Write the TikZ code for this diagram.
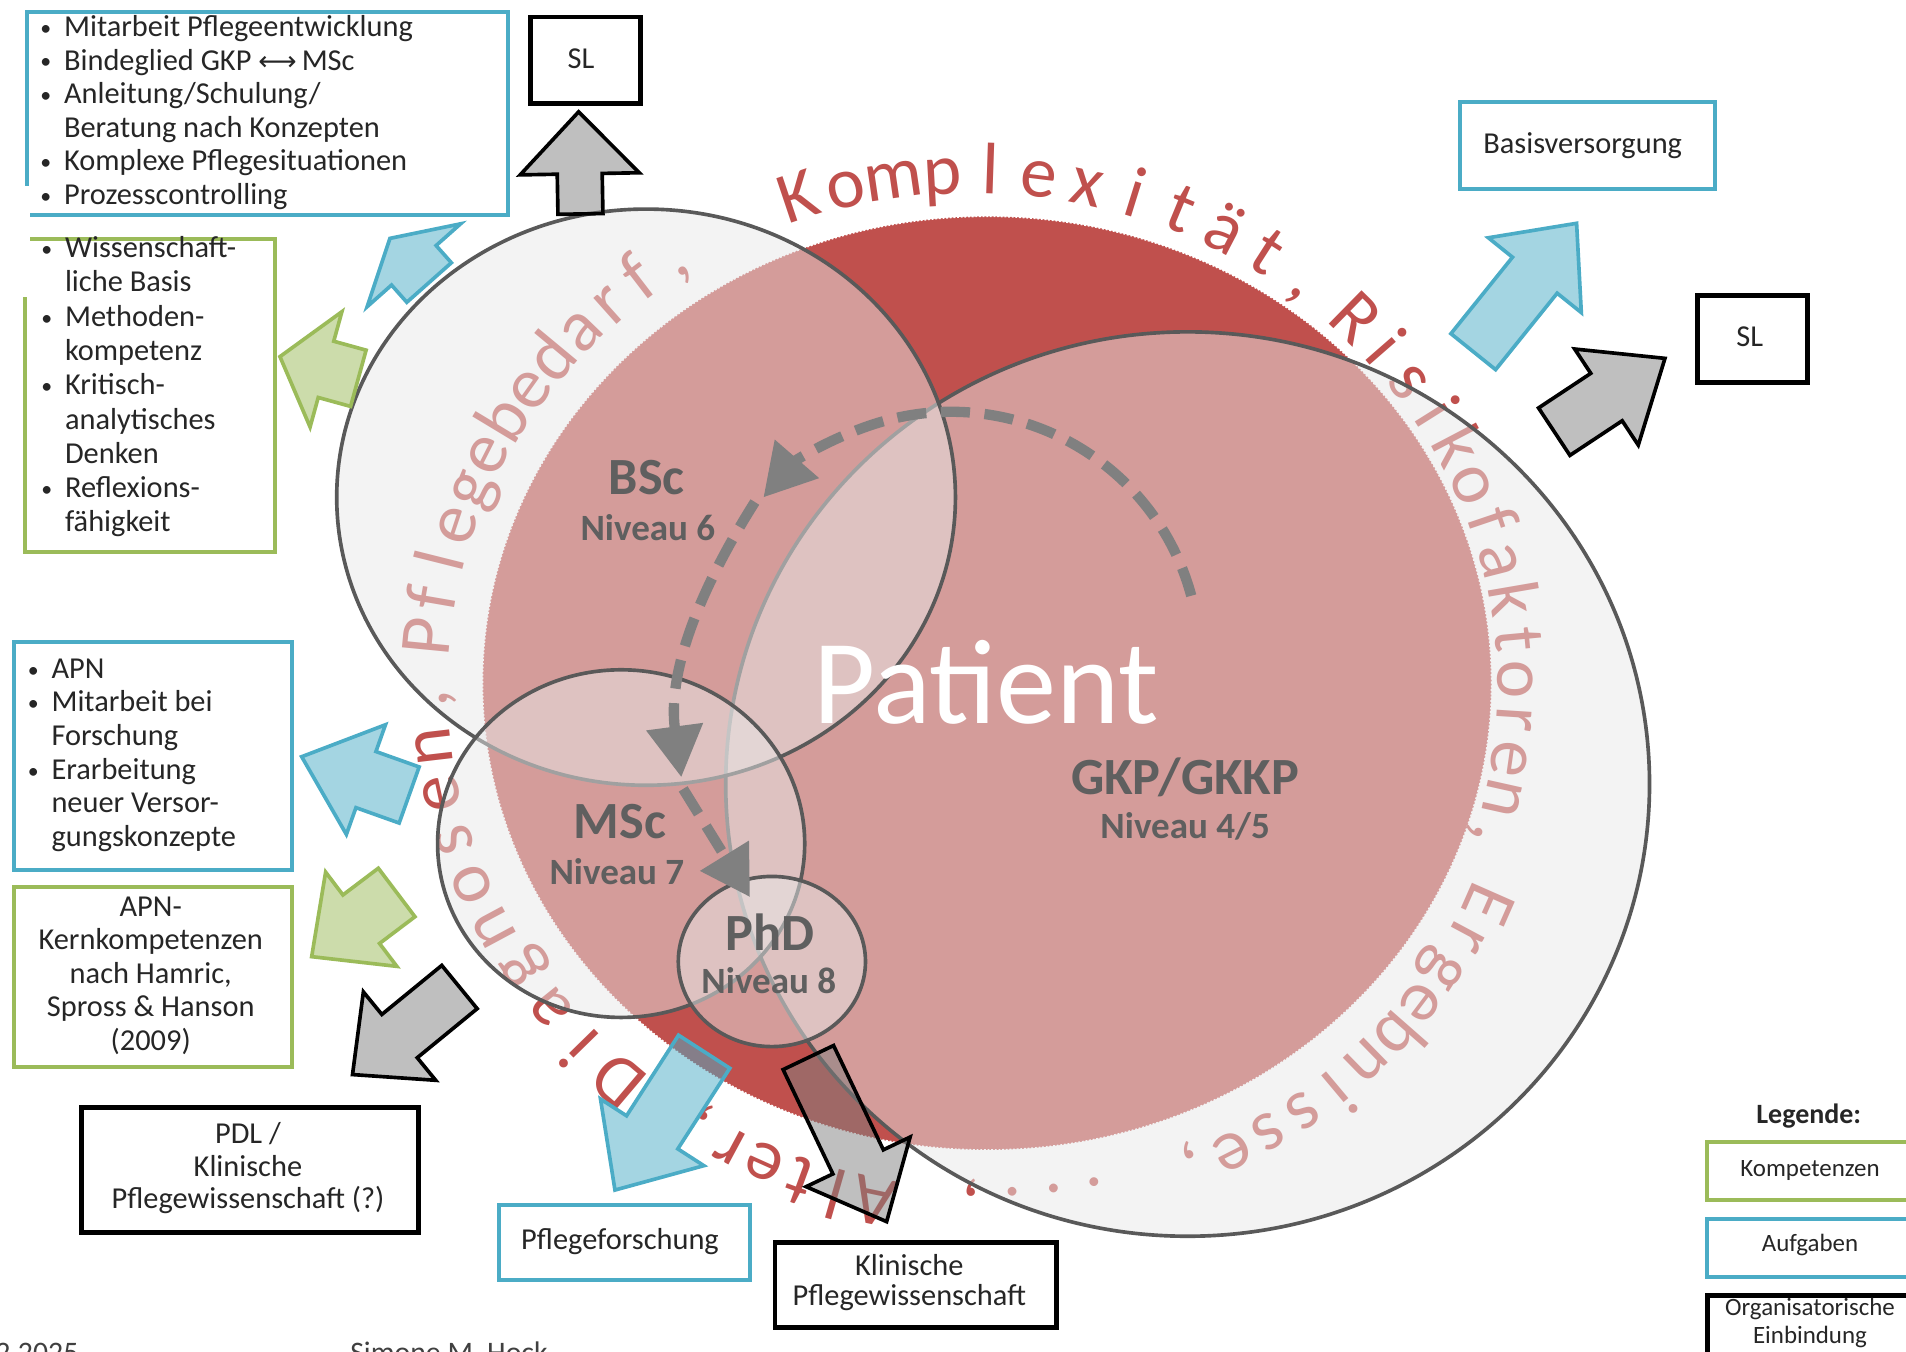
\documentclass[tikz,border=0pt]{standalone}
\usepackage{fontspec}
\setmainfont{Carlito}
\newfontfamily\symfont{DejaVu Sans}
\usetikzlibrary{calc,arrows.meta}
\definecolor{ringred}{HTML}{C0504D}
\definecolor{boxblue}{HTML}{4BACC6}
\definecolor{boxgreen}{HTML}{9BBB59}
\definecolor{ellfill}{HTML}{E8E8E8}
\definecolor{ellline}{HTML}{595959}
\definecolor{lblgray}{HTML}{5F5F5F}
\definecolor{dashgray}{HTML}{808080}
\definecolor{txtdark}{HTML}{262626}
\definecolor{foot}{HTML}{404040}

\newcommand\boxfont{\fontsize{25}{27.6}\selectfont}
\newcommand\ringsz{\fontsize{60}{60}\selectfont}
\newcommand\lblbig{\fontsize{43}{43}\selectfont\bfseries}
\newcommand\lblsmall{\fontsize{30.5}{30.5}\selectfont\bfseries}
\newcommand\rdot{.}
\newcommand\blt{\makebox[21pt][l]{\hspace*{1.5pt}\raisebox{1pt}{\fontsize{18}{18}\selectfont\textbullet}}}
\newcommand\bsp{\hspace*{21pt}}

% style, tail, tip, shaft half width, head half width, head length
\newcommand\blockarrow[6]{%
  \coordinate (bS) at #2;
  \coordinate (bT) at #3;
  \coordinate (bB) at ($(bT)!#6pt!(bS)$);
  \draw[#1] ($(bS)!#4pt!90:(bT)$) -- ($(bB)!#4pt!90:(bT)$) -- ($(bB)!#5pt!90:(bT)$) -- (bT)
     -- ($(bB)!#5pt!-90:(bT)$) -- ($(bB)!#4pt!-90:(bT)$) -- ($(bS)!#4pt!-90:(bT)$) -- cycle;
}

% ring word: start edge angle, end edge angle, list of characters, centre x, centre y
\newcount\rcn
\newcommand\ringword[5]{%
  \gdef\rtot{0}\gdef\rcnt{0}%
  \foreach \ch in {#3} {\setbox0=\hbox{\ringsz\ch}\pgfmathparse{\rtot+\the\wd0}\xdef\rtot{\pgfmathresult}\pgfmathparse{\rcnt+1}\xdef\rcnt{\pgfmathresult}}%
  \pgfmathsetmacro\rL{(#1-(#2))*3.14159/180*420}%
  \pgfmathsetmacro\rg{(\rL-\rtot)/\rcnt}%
  \gdef\rpos{0}%
  \foreach \ch in {#3} {%
    \setbox0=\hbox{\ringsz\ch}%
    \pgfmathsetmacro\rt{#1-(\rpos+0.5*\the\wd0+0.5*\rg)/\rL*(#1-(#2))}%
    \pgfmathsetmacro\rx{#4+432*cos(\rt)}%
    \pgfmathsetmacro\ry{#5-406*sin(\rt)}%
    \global\advance\rcn by 1
    \node[ringch, rotate=\rt-90, name=rc\the\rcn] at (\rx,\ry) {\ch};%
    \pgfmathparse{\rpos+\the\wd0+\rg}\xdef\rpos{\pgfmathresult}%
  }%
}

\tikzset{
  bluebox/.style={draw=boxblue, line width=3.2pt, inner sep=0pt, anchor=north west},
  greenbox/.style={draw=boxgreen, line width=3.2pt, inner sep=0pt, anchor=north west},
  blackbox/.style={draw=black, line width=3.8pt, inner sep=0pt, anchor=north west},
  txtl/.style={inner sep=0pt, anchor=base west, text=txtdark},
  txtc/.style={inner sep=0pt, anchor=base, text=txtdark},
  lbl/.style={inner sep=0pt, anchor=base, text=lblgray},
  ringch/.style={inner sep=0pt, anchor=base, text=ringred, font=\ringsz},
  ellstyle/.style={fill=ellfill, fill opacity=0.5, draw=ellline, line width=3pt},
  dasharr/.style={draw=dashgray, line width=8.5pt, dash pattern=on 24pt off 12pt},
  grayarrow/.style={draw=black, line width=3pt, fill=black!50, fill opacity=0.5, line join=miter},
  bluearrow/.style={draw=boxblue, line width=3pt, fill=boxblue, fill opacity=0.5, line join=miter},
  greenarrow/.style={draw=boxgreen, line width=3pt, fill=boxgreen, fill opacity=0.5, line join=miter},
}

\begin{document}
\begin{tikzpicture}[x=1pt,y=-1pt]
\useasboundingbox (0,0) rectangle (1568,1112);
\fill[white] (0,0) rectangle (1568,1112);

% red core
\fill[ringred] (812,562) ellipse[x radius=415pt, y radius=384pt];
\draw[white, line width=1.2pt, dash pattern=on 1.5pt off 1.5pt] (812,562) ellipse[x radius=415pt, y radius=384pt];

% ring text
\ringword{176.6}{121.1}{P,f,l,e,g,e,b,e,d,a,r,f,{,}}{800}{565}
\ringword{111.1}{49.7}{K,o,m,p,l,e,x,i,t,ä,t,{,}}{800}{565}
\ringword{47.8}{-19.3}{R,i,s,i,k,o,f,a,k,t,o,r,e,n,{,}}{800}{565}
\ringword{-21.6}{-69.7}{E,r,g,e,b,n,i,s,s,e,{,}}{812}{572}
\ringword{-76}{-94}{\rdot,\rdot,\rdot,{,}}{812}{572}
\ringword{-99.8}{-124.4}{A,l,t,e,r,{,}}{812}{572}
\ringword{-127.6}{-181.4}{D,i,a,g,n,o,s,e,n,{,}}{800}{565}

% ellipses
\path[ellstyle] (977,645) ellipse[x radius=380pt, y radius=372pt];
\path[ellstyle] (531.5,409) ellipse[x radius=254.5pt, y radius=237pt];
\path[ellstyle] (511,694) ellipse[x radius=151pt, y radius=143pt];
\path[ellstyle] (635,791) ellipse[x radius=77pt, y radius=70pt];

% labels
\node[text=white, inner sep=0pt, anchor=base, font=\fontsize{99}{99}\selectfont] (patient) at (811.5,595) {Patient};
\node[lbl, font=\lblbig] (bsc) at (532,407) {BSc};
\node[lbl, font=\lblsmall] (n6) at (533,445) {Niveau 6};
\node[lbl, font=\lblbig] (msc) at (510,690) {MSc};
\node[lbl, font=\lblsmall] (n7) at (507.5,728) {Niveau 7};
\node[lbl, font=\lblbig] (phd) at (633.5,782) {PhD};
\node[lbl, font=\lblsmall] (n8) at (632.5,817) {Niveau 8};
\node[lbl, font=\lblbig] (gkp) at (975,654) {GKP/GKKP};
\node[lbl, font=\lblsmall] (n45) at (975,690) {Niveau 4/5};

% dashed cycle arrows
\draw[dasharr, -{Triangle[length=42pt,width=46pt]}] (980,490.1) arc[start angle=-15.1, end angle=-139, radius=204.6];
\draw[dasharr, -{Triangle[length=42pt,width=45pt]}] (621,413) .. controls (585,470) and (548,545) .. (560.5,639.4);
\draw[dasharr, -{Triangle[length=40pt,width=45pt]}] (562,649) -- (617,738);

% block arrows
\blockarrow{grayarrow}{(477.5,176)}{(476,92)}{18.5}{49}{51}
\blockarrow{bluearrow}{(353,232.4)}{(320.8,196.1)}{24.5}{51.4}{29.6}
\blockarrow{greenarrow}{(294.8,311.2)}{(230.3,293.4)}{24}{49.2}{39.3}
\blockarrow{bluearrow}{(336.6,654)}{(248.2,622.5)}{24.5}{47.9}{56.1}
\blockarrow{greenarrow}{(326.3,734.2)}{(256.4,787)}{25}{48.6}{51.1}
\blockarrow{grayarrow}{(378,812)}{(290,884)}{23}{47}{50}
\blockarrow{bluearrow}{(579.3,865.2)}{(505.9,979)}{25.1}{50.6}{56.5}
\blockarrow{grayarrow}{(665,870)}{(729.4,1005)}{23}{47.4}{54.5}
\blockarrow{bluearrow}{(1212,289.3)}{(1297,183.7)}{23.6}{49.1}{54.8}
\blockarrow{grayarrow}{(1278.6,355.1)}{(1369.7,294.8)}{23.4}{47.4}{57.7}

% boxes
\node[bluebox, minimum width=395.5pt, minimum height=167pt] (tlbox) at (20.5,8.5) {};
\node[blackbox, minimum width=90.5pt, minimum height=71pt] (sltop) at (434.5,12) {};
\node[greenbox, minimum width=205.6pt, minimum height=257.8pt] (wbox) at (19.2,194.7) {};
\fill[white] (14,153) rectangle (25,244);
\node[bluebox, minimum width=229pt, minimum height=187.5pt] (apnbox) at (9.6,526.5) {};
\node[greenbox, minimum width=229pt, minimum height=148pt] (kernbox) at (9.6,728) {};
\node[blackbox, minimum width=277.2pt, minimum height=103pt] (pdlbox) at (65.4,909) {};
\node[bluebox, minimum width=206.3pt, minimum height=61.6pt] (pfbox) at (409,990) {};
\node[blackbox, minimum width=231.4pt, minimum height=70pt] (klbox) at (635.7,1020) {};
\node[bluebox, minimum width=209.7pt, minimum height=71.3pt] (basisbox) at (1199.7,82.3) {};
\node[blackbox, minimum width=90.5pt, minimum height=71.3pt] (slright) at (1394.4,241.3) {};

% box texts
\node[txtl] (tltext) at (31.5,30) {\parbox[t]{380pt}{\boxfont
\blt Mitarbeit Pflegeentwicklung\\
\blt Bindeglied GKP {\symfont\fontsize{22}{22}\selectfont ⟷}\,MSc\\
\blt Anleitung/Schulung/\\
\bsp Beratung nach Konzepten\\
\blt Komplexe Pflegesituationen\\
\blt Prozesscontrolling}};
\node[txtc] (sltext) at (478,56) {\boxfont SL};
\node[txtl] (wtext) at (32.3,212) {\parbox[t]{190pt}{\fontsize{25}{28.2}\selectfont
\blt Wissenschaft-\\
\bsp liche Basis\\
\blt Methoden-\\
\bsp kompetenz\\
\blt Kritisch-\\
\bsp analytisches\\
\bsp Denken\\
\blt Reflexions-\\
\bsp fähigkeit}};
\node[txtl] (apntext) at (21.2,558) {\parbox[t]{215pt}{\fontsize{25}{27.7}\selectfont
\blt APN\\
\blt Mitarbeit bei\\
\bsp Forschung\\
\blt Erarbeitung\\
\bsp neuer Versor-\\
\bsp gungskonzepte}};
\node[txtc] (kerntext) at (124,754) {\parbox[t]{225pt}{\centering\fontsize{25}{27.45}\selectfont
APN-\\Kernkompetenzen\\nach Hamric,\\Spross \& Hanson\\(2009)}};
\node[txtc] (pdltext) at (204,941) {\parbox[t]{270pt}{\centering\fontsize{25}{26.5}\selectfont
PDL /\\Klinische\\Pflegewissenschaft (?)}};
\node[txtc] (pftext) at (510,1028.3) {\boxfont Pflegeforschung};
\node[txtc] (kltext) at (748,1049) {\parbox[t]{230pt}{\centering\fontsize{25}{24.7}\selectfont
Klinische\\Pflegewissenschaft}};
\node[txtc] (basistext) at (1302,126.1) {\boxfont Basisversorgung};
\node[txtc] (slrtext) at (1439.5,285.2) {\boxfont SL};

% legend
\node[txtc, font=\fontsize{23}{23}\selectfont\bfseries] (legtitle) at (1488,924) {Legende:};
\node[greenbox, minimum width=172.4pt, minimum height=48pt] (leg1) at (1402.6,937.8) {};
\node[bluebox, minimum width=172.4pt, minimum height=48pt] (leg2) at (1402.6,1000.9) {};
\node[blackbox, minimum width=172.4pt, minimum height=62pt] (leg3) at (1402.6,1064) {};
\node[txtc, font=\fontsize{20.5}{20.5}\selectfont] (leg1t) at (1489,968) {Kompetenzen};
\node[txtc, font=\fontsize{20.5}{20.5}\selectfont] (leg2t) at (1489,1029.7) {Aufgaben};
\node[txtc] (leg3t) at (1489,1081.8) {\parbox[t]{170pt}{\centering\fontsize{20.5}{23.3}\selectfont Organisatorische\\Einbindung}};

% footer
\node[inner sep=0pt, anchor=base west, text=foot, font=\fontsize{24.5}{24.5}\selectfont] (date) at (-4,1121) {2.2025};
\node[inner sep=0pt, anchor=base west, text=foot, font=\fontsize{24.5}{24.5}\selectfont] (author) at (288,1121) {Simone M. Hock};
\end{tikzpicture}
\end{document}
